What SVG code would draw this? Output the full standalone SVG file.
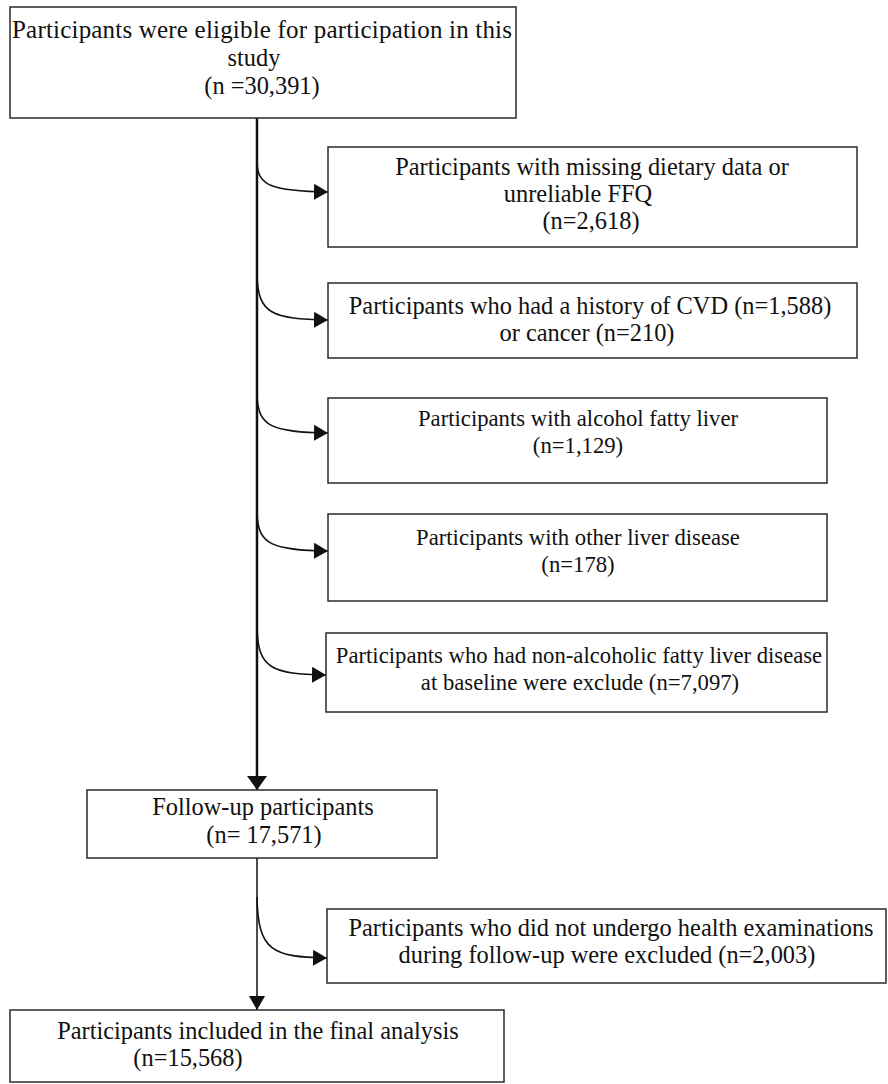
<svg xmlns="http://www.w3.org/2000/svg" width="888" height="1084" viewBox="0 0 888 1084">
<defs>
<style>
.box{fill:#fff;stroke:#2a2a2a;stroke-width:1.5}
.t{font-family:"Liberation Serif","Times New Roman",serif;font-size:24.4px;fill:#111;text-anchor:middle}
.s{font-size:22.7px}
.main{fill:none;stroke:#111;stroke-width:2.5}
.thin{fill:none;stroke:#111;stroke-width:1.5}
.curve{fill:none;stroke:#111;stroke-width:1.6}
</style>
<marker id="ah" markerUnits="userSpaceOnUse" viewBox="0 0 14 16" refX="14" refY="8" markerWidth="14" markerHeight="16" orient="auto"><path d="M0,0 L14,8 L0,16 Z" fill="#111"/></marker>
<marker id="ahd" markerUnits="userSpaceOnUse" viewBox="0 0 14 20" refX="14" refY="10" markerWidth="14" markerHeight="20" orient="auto"><path d="M0,0 L14,10 L0,20 Z" fill="#111"/></marker>
</defs>
<rect width="888" height="1084" fill="#fff"/>
<g id="connectors">
<path class="main" d="M257,118 V790" marker-end="url(#ahd)"/>
<path class="curve" d="M257,163 C258,186 272,191 328,192" marker-end="url(#ah)"/>
<path class="curve" d="M257,275 C258,314 272,319 328,320" marker-end="url(#ah)"/>
<path class="curve" d="M257,395 C258,427 272,432 328,433" marker-end="url(#ah)"/>
<path class="curve" d="M257,513 C258,545 272,550 328,551" marker-end="url(#ah)"/>
<path class="curve" d="M257,628 C258,669 272,674 326,675" marker-end="url(#ah)"/>
<path class="thin" d="M257,858 V1010" marker-end="url(#ah)"/>
<path class="curve" d="M257,897 C258,951 272,957 327,958" marker-end="url(#ah)"/>
</g>
<g id="n0"><rect class="box" x="10" y="7" width="506" height="111"/>
<text class="t" x="262" y="38" style="font-size:25px" textLength="500" lengthAdjust="spacing">Participants were eligible for participation in this</text>
<text class="t" x="254" y="66">study</text>
<text class="t" x="262" y="94">(n =30,391)</text></g>
<g id="n1"><rect class="box" x="328" y="147" width="529" height="100"/>
<text class="t" x="592" y="175">Participants with missing dietary data or</text>
<text class="t" x="578" y="202">unreliable FFQ</text>
<text class="t" x="591" y="229">(n=2,618)</text></g>
<g id="n2"><rect class="box" x="328" y="283" width="529" height="75"/>
<text class="t" x="590" y="314">Participants who had a history of CVD (n=1,588)</text>
<text class="t" x="587" y="341">or cancer (n=210)</text></g>
<g id="n3"><rect class="box" x="328" y="398" width="499" height="85"/>
<text class="t s" x="578" y="426">Participants with alcohol fatty liver</text>
<text class="t s" x="578" y="453">(n=1,129)</text></g>
<g id="n4"><rect class="box" x="328" y="514" width="499" height="87"/>
<text class="t s" x="578" y="545">Participants with other liver disease</text>
<text class="t s" x="578" y="572">(n=178)</text></g>
<g id="n5"><rect class="box" x="326" y="633" width="501" height="79"/>
<text class="t s" x="579" y="663">Participants who had non-alcoholic fatty liver disease</text>
<text class="t s" x="580" y="690">at baseline were exclude (n=7,097)</text></g>
<g id="n6"><rect class="box" x="87" y="790" width="350" height="68"/>
<text class="t" x="263" y="815">Follow-up participants</text>
<text class="t" x="264" y="843">(n= 17,571)</text></g>
<g id="n7"><rect class="box" x="327" y="909" width="559" height="74"/>
<text class="t" x="611" y="936">Participants who did not undergo health examinations</text>
<text class="t" x="607" y="963">during follow-up were excluded (n=2,003)</text></g>
<g id="n8"><rect class="box" x="10" y="1010" width="494" height="72"/>
<text class="t" x="258" y="1039">Participants included in the final analysis</text>
<text class="t" x="188" y="1066">(n=15,568)</text></g>
</svg>
